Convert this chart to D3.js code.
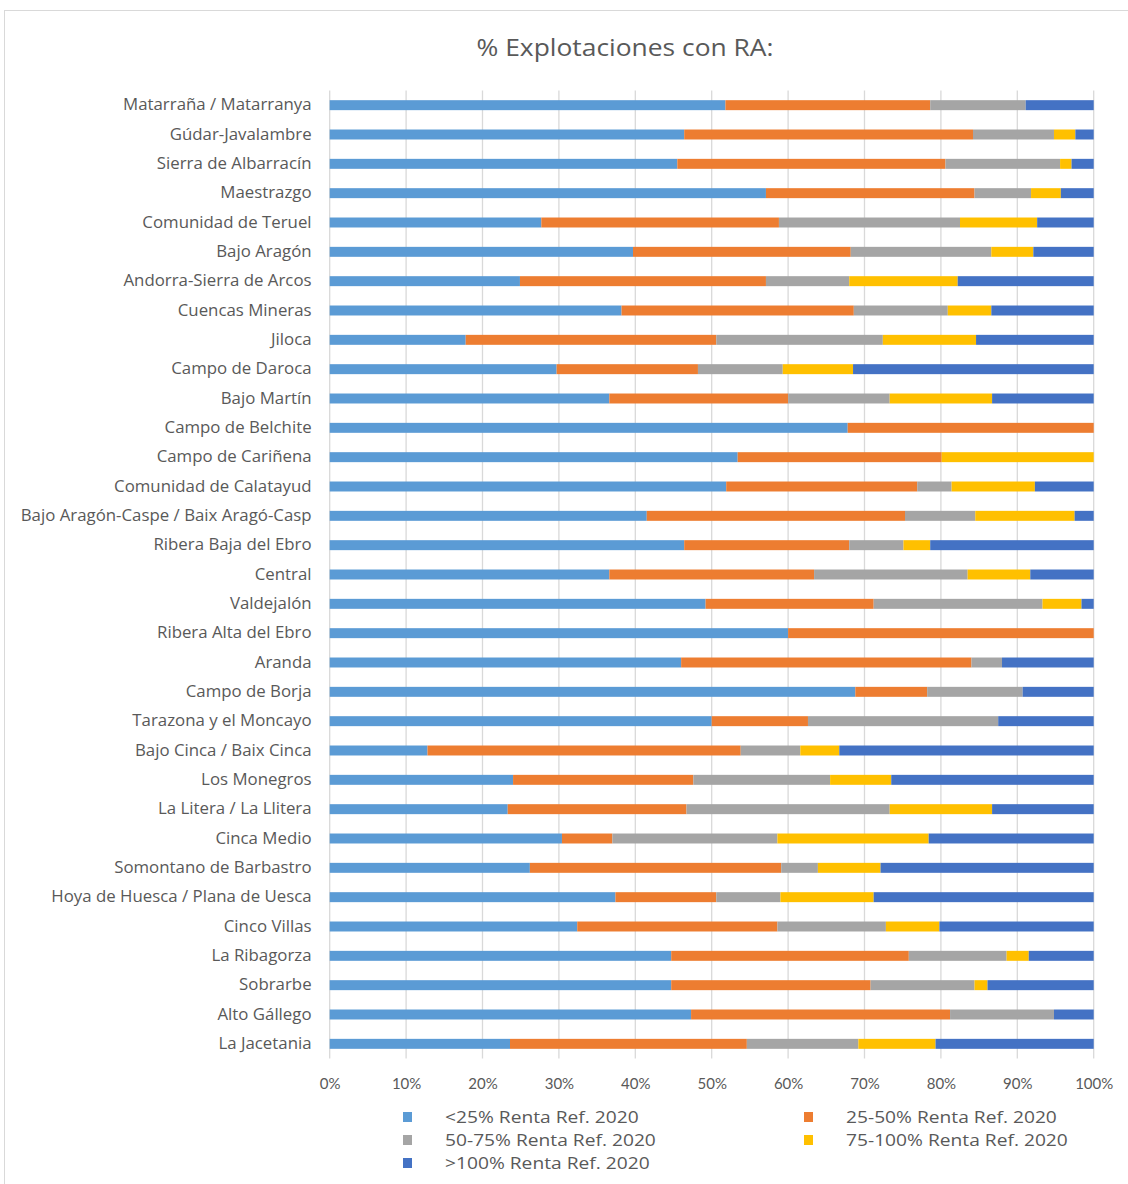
<!DOCTYPE html>
<html>
<head>
<meta charset="utf-8">
<script src="https://cdn.jsdelivr.net/npm/d3@7"></script>
<style>
  body { margin: 0; background: #fff; }
  svg { font-family: "Open Sans", Lato, sans-serif; }
</style>
</head>
<body>
<div id="chart"></div>
<script>
// comarcas, top to bottom
var comarcas = [
  'Matarraña / Matarranya', 'Gúdar-Javalambre', 'Sierra de Albarracín', 'Maestrazgo',
  'Comunidad de Teruel', 'Bajo Aragón', 'Andorra-Sierra de Arcos', 'Cuencas Mineras',
  'Jiloca', 'Campo de Daroca', 'Bajo Martín', 'Campo de Belchite', 'Campo de Cariñena',
  'Comunidad de Calatayud', 'Bajo Aragón-Caspe / Baix Aragó-Casp', 'Ribera Baja del Ebro',
  'Central', 'Valdejalón', 'Ribera Alta del Ebro', 'Aranda', 'Campo de Borja',
  'Tarazona y el Moncayo', 'Bajo Cinca / Baix Cinca', 'Los Monegros', 'La Litera / La Llitera',
  'Cinca Medio', 'Somontano de Barbastro', 'Hoya de Huesca / Plana de Uesca', 'Cinco Villas',
  'La Ribagorza', 'Sobrarbe', 'Alto Gállego', 'La Jacetania'
];

var seriesNames = ['<25% Renta Ref. 2020', '25-50% Renta Ref. 2020', '50-75% Renta Ref. 2020',
                   '75-100% Renta Ref. 2020', '>100% Renta Ref. 2020'];
var seriesColors = ['#5b9bd5', '#ed7d31', '#a5a5a5', '#ffc000', '#4472c4'];

var menos25 = [51.8, 46.4, 45.5, 57.1, 27.7, 39.7, 24.9, 38.2, 17.8, 29.7, 36.6, 67.8, 53.4,
               51.9, 41.5, 46.4, 36.6, 49.2, 60.0, 46.0, 68.8, 50.0, 12.8, 24.0, 23.3, 30.4,
               26.2, 37.4, 32.4, 44.7, 44.7, 47.3, 23.6];
var de25a50 = [26.8, 37.8, 35.1, 27.3, 31.1, 28.5, 32.2, 30.4, 32.8, 18.5, 23.4, 32.2, 26.7,
               25.0, 33.8, 21.6, 26.8, 22.0, 40.0, 38.0, 9.4, 12.6, 41.0, 23.6, 23.4, 6.6,
               32.9, 13.2, 26.2, 31.1, 26.1, 33.9, 31.0];
var de50a75 = [12.5, 10.6, 15.0, 7.4, 23.7, 18.4, 10.9, 12.3, 21.8, 11.1, 13.3, 0, 0,
               4.5, 9.2, 7.1, 20.1, 22.1, 0, 4.0, 12.5, 24.9, 7.8, 17.9, 26.6, 21.6,
               4.8, 8.4, 14.2, 12.8, 13.6, 13.6, 14.6];
var de75a100 = [0, 2.8, 1.5, 3.9, 10.1, 5.5, 14.2, 5.7, 12.2, 9.2, 13.4, 0, 19.9,
                10.9, 13.0, 3.5, 8.2, 5.1, 0, 0, 0, 0, 5.1, 8.0, 13.4, 19.8,
                8.2, 12.2, 7.0, 2.9, 1.7, 0, 10.1];
var mas100 = [8.9, 2.4, 2.9, 4.3, 7.4, 7.9, 17.8, 13.4, 15.4, 31.5, 13.3, 0, 0,
              7.7, 2.5, 21.4, 8.3, 1.6, 0, 12.0, 9.3, 12.5, 33.3, 26.5, 13.3, 21.6,
              27.9, 28.8, 20.2, 8.5, 13.9, 5.2, 20.7];

var xTicks = [0, 10, 20, 30, 40, 50, 60, 70, 80, 90, 100];

var W = 1128, H = 1184;
var margin = {top: 90.5, left: 329.7, right: 34.3, bottom: 125.5};
var width = W - margin.left - margin.right,
    height = H - margin.top - margin.bottom;

// the original text is a bit wider than these fonts
var stretchLabels = 1.066, stretchTitle = 1.1, stretchLegend = 1.13;

var rows = comarcas.map(function(c, i) {
  var r = {name: c};
  r[seriesNames[0]] = menos25[i];
  r[seriesNames[1]] = de25a50[i];
  r[seriesNames[2]] = de50a75[i];
  r[seriesNames[3]] = de75a100[i];
  r[seriesNames[4]] = mas100[i];
  return r;
});

// values are shares, normalise in case they do not add to exactly 100
var stacked = d3.stack().keys(seriesNames).offset(d3.stackOffsetExpand)(rows);

var x = d3.scaleLinear().domain([0, 1]).range([0, width]);
var y = d3.scaleBand().domain(comarcas).range([0, height]).paddingInner(0.66).paddingOuter(0.33);
var color = d3.scaleOrdinal().domain(seriesNames).range(seriesColors);

var svg = d3.select('#chart').append('svg')
    .attr('width', W)
    .attr('height', H);

svg.append('rect')
    .attr('x', 4.5).attr('y', 10.5)
    .attr('width', W).attr('height', H)
    .attr('fill', '#fff')
    .attr('stroke', '#d9d9d9');

svg.append('g')
    .attr('transform', 'translate(625,56)')
    .append('text')
    .attr('transform', 'scale(' + stretchTitle + ',1)')
    .attr('text-anchor', 'middle')
    .attr('fill', '#595959')
    .style('font-size', '24px')
    .text('% Explotaciones con RA:');

var g = svg.append('g')
    .attr('transform', 'translate(' + margin.left + ',' + margin.top + ')');

// grid
g.append('g').selectAll('line')
    .data(xTicks)
    .join('line')
    .attr('x1', function(d) { return x(d / 100); })
    .attr('x2', function(d) { return x(d / 100); })
    .attr('y1', 0).attr('y2', height)
    .attr('stroke', '#d9d9d9')
    .attr('stroke-width', 1.3);

g.append('g').selectAll('g')
    .data(stacked)
    .join('g')
    .attr('fill', function(d) { return color(d.key); })
    .selectAll('rect')
    .data(function(d) { return d; })
    .join('rect')
    .attr('x', function(d) { return x(d[0]); })
    .attr('width', function(d) { return x(d[1]) - x(d[0]); })
    .attr('y', function(d) { return y(d.data.name); })
    .attr('height', y.bandwidth());

var xAxis = d3.axisBottom(x)
    .tickValues(xTicks.map(function(d) { return d / 100; }))
    .tickFormat(d3.format('.0%'))
    .tickSize(0)
    .tickPadding(20);

g.append('g')
    .attr('transform', 'translate(0,' + height + ')')
    .call(xAxis)
    .call(function(s) { s.select('.domain').remove(); })
    .selectAll('text')
    .attr('fill', '#595959')
    .style('font-size', '15px')
    .style('font-family', 'Lato, sans-serif');

var yAxis = d3.axisLeft(y).tickSize(0).tickPadding(17);

g.append('g')
    .call(yAxis)
    .call(function(s) { s.select('.domain').remove(); })
    .selectAll('text')
    .attr('transform', 'scale(' + stretchLabels + ',1)')
    .attr('fill', '#595959')
    .style('font-size', '15.8px')
    .style('font-family', '"Open Sans", sans-serif');

// legend
var legendPos = [[407, 1117], [808, 1117], [407, 1140], [808, 1140], [407, 1163]];
var legend = svg.append('g').selectAll('g')
    .data(seriesNames)
    .join('g')
    .attr('transform', function(d, i) { return 'translate(' + legendPos[i][0] + ',' + legendPos[i][1] + ')'; });

legend.append('rect')
    .attr('x', -4).attr('y', -5)
    .attr('width', 9).attr('height', 10)
    .attr('fill', function(d) { return color(d); });

legend.append('text')
    .attr('transform', 'translate(38,6) scale(' + stretchLegend + ',1)')
    .attr('fill', '#595959')
    .style('font-size', '17px')
    .text(function(d) { return d; });
</script>
</body>
</html>
